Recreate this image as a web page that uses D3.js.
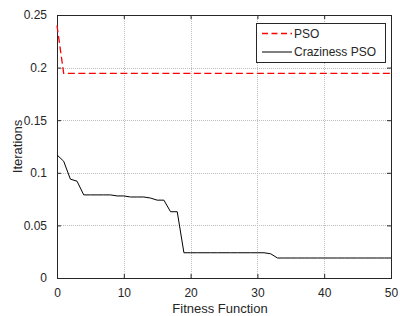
<!DOCTYPE html>
<html>
<head>
<meta charset="utf-8">
<script src="https://cdn.jsdelivr.net/npm/d3@7"></script>
<style>
  html, body { margin: 0; padding: 0; background: #fff; }
  svg { display: block; }
  text { font-family: "Liberation Sans", Arial, Helvetica, sans-serif; fill: #262626; }
</style>
</head>
<body>
<script>
// ---- data ----
const iterations = d3.range(0, 51); // x values 0..50
const psoValues = [
  0.240, 0.1945, 0.1945, 0.1945, 0.1945, 0.1945, 0.1945, 0.1945, 0.1945, 0.1945,
  0.1945, 0.1945, 0.1945, 0.1945, 0.1945, 0.1945, 0.1945, 0.1945, 0.1945, 0.1945,
  0.1945, 0.1945, 0.1945, 0.1945, 0.1945, 0.1945, 0.1945, 0.1945, 0.1945, 0.1945,
  0.1945, 0.1945, 0.1945, 0.1945, 0.1945, 0.1945, 0.1945, 0.1945, 0.1945, 0.1945,
  0.1945, 0.1945, 0.1945, 0.1945, 0.1945, 0.1945, 0.1945, 0.1945, 0.1945, 0.1945,
  0.1945
];
const crazyValues = [
  0.117, 0.111, 0.094, 0.092, 0.079, 0.079, 0.079, 0.079, 0.079, 0.078,
  0.078, 0.077, 0.077, 0.077, 0.076, 0.074, 0.074, 0.063, 0.063, 0.024,
  0.024, 0.024, 0.024, 0.024, 0.024, 0.024, 0.024, 0.024, 0.024, 0.024,
  0.024, 0.024, 0.023, 0.019, 0.019, 0.019, 0.019, 0.019, 0.019, 0.019,
  0.019, 0.019, 0.019, 0.019, 0.019, 0.019, 0.019, 0.019, 0.019, 0.019,
  0.019
];
const seriesNames = ["PSO", "Craziness PSO"];
const xTicks = [0, 10, 20, 30, 40, 50];
const yTicks = [0, 0.05, 0.1, 0.15, 0.2, 0.25];
const yTickLabels = ["0", "0.05", "0.1", "0.15", "0.2", "0.25"];
const xLabel = "Fitness Function";
const yLabel = "Iterations";

// ---- layout ----
const W = 400, H = 316;
const m = { left: 57, right: 9, top: 15, bottom: 38 };
const pw = W - m.left - m.right, ph = H - m.top - m.bottom;

const svg = d3.select("body").append("svg").attr("width", W).attr("height", H);
const g = svg.append("g").attr("transform", `translate(${m.left},${m.top})`);

const x = d3.scaleLinear().domain([0, 50]).range([0, pw]);
const y = d3.scaleLinear().domain([0, 0.25]).range([ph, 0]);

// grid
const grid = g.append("g");
grid.selectAll(".gx").data(xTicks.slice(1, -1)).join("line")
  .attr("x1", d => Math.round(x(d)) + 0.5).attr("x2", d => Math.round(x(d)) + 0.5)
  .attr("y1", 0).attr("y2", ph)
  .attr("stroke", "#bdbdbd").attr("stroke-width", 1).attr("stroke-dasharray", "1,1");
grid.selectAll(".gy").data(yTicks.slice(1, -1)).join("line")
  .attr("y1", d => Math.round(y(d)) + 0.5).attr("y2", d => Math.round(y(d)) + 0.5)
  .attr("x1", 0).attr("x2", pw)
  .attr("stroke", "#bdbdbd").attr("stroke-width", 1).attr("stroke-dasharray", "1,1");

// axes with inward ticks
const axisColor = "#262626";
function styleAxis(sel, showLabels) {
  sel.select(".domain").remove();
  sel.selectAll(".tick line").attr("stroke", axisColor);
  sel.selectAll(".tick text").attr("fill", axisColor).style("font-size", "12px")
    .style("font-family", '"Liberation Sans", Arial, sans-serif');
  if (!showLabels) sel.selectAll(".tick text").remove();
}
const xAxisB = g.append("g").attr("transform", `translate(0,${ph})`)
  .call(d3.axisBottom(x).tickValues(xTicks).tickSizeInner(-4).tickSizeOuter(0).tickPadding(10).tickFormat(d3.format("d")));
styleAxis(xAxisB, true);
const xAxisT = g.append("g")
  .call(d3.axisTop(x).tickValues(xTicks).tickSizeInner(-4).tickSizeOuter(0));
styleAxis(xAxisT, false);
const yAxisL = g.append("g")
  .call(d3.axisLeft(y).tickValues(yTicks).tickSizeInner(-4).tickSizeOuter(0).tickPadding(10)
    .tickFormat((d, i) => yTickLabels[i]));
styleAxis(yAxisL, true);
const yAxisR = g.append("g").attr("transform", `translate(${pw},0)`)
  .call(d3.axisRight(y).tickValues(yTicks).tickSizeInner(-4).tickSizeOuter(0));
styleAxis(yAxisR, false);

// box
g.append("rect").attr("x", 0.5).attr("y", 0.5).attr("width", pw).attr("height", ph)
  .attr("fill", "none").attr("stroke", axisColor).attr("stroke-width", 1);

// lines
const line = d3.line().x((d, i) => x(iterations[i])).y(d => y(d));
g.append("path").datum(crazyValues).attr("d", line)
  .attr("fill", "none").attr("stroke", "#000").attr("stroke-width", 1);
g.append("path").datum(psoValues).attr("d", line)
  .attr("fill", "none").attr("stroke", "#ff0000").attr("stroke-width", 1.3)
  .attr("stroke-dasharray", "7,3.5");

// axis labels
svg.append("text").attr("x", 220).attr("y", 313).attr("text-anchor", "middle")
  .style("font-size", "13px").text(xLabel);
svg.append("text").attr("transform", `translate(22,${m.top + ph / 2}) rotate(-90)`)
  .attr("text-anchor", "middle").style("font-size", "13px").text(yLabel);

// legend
const lg = svg.append("g").attr("transform", "translate(256,23)");
lg.append("rect").attr("x", 0.5).attr("y", 0.5).attr("width", 129).attr("height", 39)
  .attr("fill", "#fff").attr("stroke", axisColor).attr("stroke-width", 1);
const styles = [
  { color: "#ff0000", dash: "6,3.5", width: 1.3 },
  { color: "#000", dash: null, width: 1 }
];
seriesNames.forEach((name, i) => {
  const yy = 10.5 + i * 18.5;
  lg.append("line").attr("x1", 6).attr("x2", 36).attr("y1", yy).attr("y2", yy)
    .attr("stroke", styles[i].color).attr("stroke-width", styles[i].width)
    .attr("stroke-dasharray", styles[i].dash);
  lg.append("text").attr("x", 38).attr("y", yy).attr("dy", "0.35em")
    .style("font-size", "12px").text(name);
});
</script>
</body>
</html>
